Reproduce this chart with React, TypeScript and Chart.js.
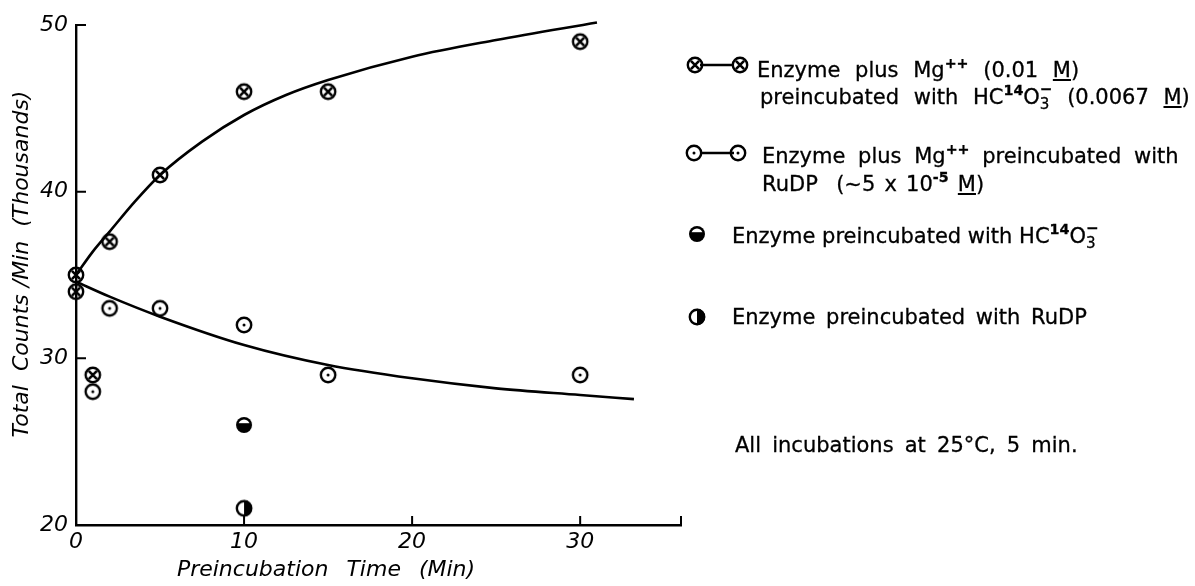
import React, { useEffect, useRef } from "react";
import { Chart, registerables } from "chart.js";
Chart.register(...registerables);

// ---- data ----
const X_TICKS = [0, 10, 20, 30];
const Y_TICKS = [20, 30, 40, 50];
const X_MIN = 0;
const X_MAX = 36;
const Y_MIN = 20;
const Y_MAX = 50;

const mgBicarbTime = [0, 0, 1, 2, 5, 10, 15, 30];
const mgBicarbCounts = [35, 34, 29, 37, 41, 46, 46, 49];

const mgRudpTime = [1, 2, 5, 10, 15, 30];
const mgRudpCounts = [28, 33, 33, 32, 29, 29];

const bicarbTime = [10];
const bicarbCounts = [26];

const rudpTime = [10];
const rudpCounts = [21];

const upperFitTime = [0, 1, 2, 3.5, 5, 7.5, 10, 12.5, 15, 20, 25, 31];
const upperFitCounts = [35, 36.4, 37.6, 39.4, 41.0, 43.0, 44.6, 45.8, 46.7, 48.1, 49.1, 50.15];

const lowerFitTime = [0, 2, 5, 10, 15, 20, 25, 30, 33.2];
const lowerFitCounts = [34.6, 33.7, 32.5, 30.8, 29.6, 28.8, 28.2, 27.8, 27.55];

const X_TITLE = "Preincubation  Time  (Min)";
const Y_TITLE = "Total  Counts /Min  (Thousands)";

const zip = (xs: number[], ys: number[]) => xs.map((x, i) => ({ x, y: ys[i] }));

type Kind = "cross" | "dot" | "halfBottom" | "halfRight";

function makeMarker(kind: Kind): HTMLCanvasElement {
  const s = 22;
  const c = document.createElement("canvas");
  c.width = s;
  c.height = s;
  const g = c.getContext("2d")!;
  const m = s / 2;
  g.strokeStyle = "#000";
  g.fillStyle = "#000";
  g.lineWidth = 2.4;
  if (kind === "cross") {
    g.beginPath();
    g.arc(m, m, 7.2, 0, Math.PI * 2);
    g.stroke();
    const d = 4.1;
    g.lineWidth = 2.6;
    g.beginPath();
    g.moveTo(m - d, m - d);
    g.lineTo(m + d, m + d);
    g.moveTo(m + d, m - d);
    g.lineTo(m - d, m + d);
    g.stroke();
  } else if (kind === "dot") {
    g.beginPath();
    g.arc(m, m, 7.2, 0, Math.PI * 2);
    g.stroke();
    g.beginPath();
    g.arc(m, m, 1.5, 0, Math.PI * 2);
    g.fill();
  } else if (kind === "halfBottom") {
    g.beginPath();
    g.arc(m, m, 8, 0, Math.PI * 2);
    g.fill();
    g.save();
    g.beginPath();
    g.arc(m, m, 5.6, 0, Math.PI * 2);
    g.clip();
    g.fillStyle = "#fff";
    g.fillRect(m - 7, m - 7, 14, 5.2);
    g.restore();
  } else {
    g.beginPath();
    g.arc(m, m, 7.2, 0, Math.PI * 2);
    g.stroke();
    g.beginPath();
    g.moveTo(m, m - 8.2);
    g.arc(m, m, 8.2, -Math.PI / 2, Math.PI / 2);
    g.closePath();
    g.fill();
  }
  return c;
}

const FONT = '"DejaVu Sans", "Liberation Sans", sans-serif';

export default function App() {
  const ref = useRef<HTMLCanvasElement | null>(null);

  useEffect(() => {
    if (!ref.current) return;
    const mk = {
      cross: makeMarker("cross"),
      dot: makeMarker("dot"),
      halfBottom: makeMarker("halfBottom"),
      halfRight: makeMarker("halfRight"),
    };

    const decor = {
      id: "decor",
      afterDraw(chart: any) {
        const { ctx } = chart;
        const xs = chart.scales.x;
        const ys = chart.scales.y;
        const x0 = xs.getPixelForValue(X_MIN);
        const y0 = ys.getPixelForValue(Y_MIN);
        ctx.save();
        ctx.strokeStyle = "#000";
        ctx.lineWidth = 2;
        ctx.beginPath();
        Y_TICKS.filter((v) => v > Y_MIN).forEach((v) => {
          const py = ys.getPixelForValue(v);
          ctx.moveTo(x0, py);
          ctx.lineTo(x0 + 10, py);
        });
        [...X_TICKS.filter((v) => v > X_MIN), X_MAX].forEach((v) => {
          const px = xs.getPixelForValue(v);
          ctx.moveTo(px, y0);
          ctx.lineTo(px, y0 - 9);
        });
        ctx.stroke();

        // axis titles
        ctx.fillStyle = "#000";
        ctx.font = `italic 22px ${FONT}`;
        ctx.textAlign = "center";
        ctx.textBaseline = "middle";
        try { (ctx as any).wordSpacing = "2px"; } catch (e) {}
        ctx.fillText(X_TITLE, 326, 570);
        try { (ctx as any).wordSpacing = "0px"; } catch (e) {}
        ctx.translate(22, 264);
        ctx.rotate(-Math.PI / 2);
        ctx.fillText(Y_TITLE, 0, 0);
        ctx.restore();

        // legend symbols
        ctx.save();
        ctx.strokeStyle = "#000";
        ctx.lineWidth = 2.4;
        ctx.beginPath();
        ctx.moveTo(700, 65);
        ctx.lineTo(734, 65);
        ctx.moveTo(700, 153);
        ctx.lineTo(734, 153);
        ctx.stroke();
        const put = (img: HTMLCanvasElement, cx: number, cy: number) =>
          ctx.drawImage(img, cx - img.width / 2, cy - img.height / 2);
        put(mk.cross, 695, 65);
        put(mk.cross, 740, 65);
        put(mk.dot, 694, 153);
        put(mk.dot, 738, 153);
        put(mk.halfBottom, 697, 234);
        put(mk.halfRight, 697, 317);
        ctx.restore();
      },
    };

    const chart = new Chart(ref.current, {
      type: "scatter",
      data: {
        datasets: [
          {
            label: "upper fit",
            data: zip(upperFitTime, upperFitCounts),
            showLine: true,
            borderColor: "#000",
            borderWidth: 2.6,
            pointRadius: 0,
            cubicInterpolationMode: "monotone",
            clip: false,
          } as any,
          {
            label: "lower fit",
            data: zip(lowerFitTime, lowerFitCounts),
            showLine: true,
            borderColor: "#000",
            borderWidth: 2.6,
            pointRadius: 0,
            cubicInterpolationMode: "monotone",
            clip: false,
          } as any,
          {
            label: "Enzyme plus Mg++ preincubated with HC14O3-",
            data: zip(mgBicarbTime, mgBicarbCounts),
            pointStyle: mk.cross,
            pointRadius: 8,
            clip: false,
          } as any,
          {
            label: "Enzyme plus Mg++ preincubated with RuDP",
            data: zip(mgRudpTime, mgRudpCounts),
            pointStyle: mk.dot,
            pointRadius: 8,
            clip: false,
          } as any,
          {
            label: "Enzyme preincubated with HC14O3-",
            data: zip(bicarbTime, bicarbCounts),
            pointStyle: mk.halfBottom,
            pointRadius: 8,
            clip: false,
          } as any,
          {
            label: "Enzyme preincubated with RuDP",
            data: zip(rudpTime, rudpCounts),
            pointStyle: mk.halfRight,
            pointRadius: 8,
            clip: false,
          } as any,
        ],
      },
      options: {
        responsive: false,
        animation: false,
        events: [],
        layout: { padding: { left: 0, top: 25, right: 1195 - 681, bottom: 0 } },
        plugins: { legend: { display: false }, tooltip: { enabled: false } },
        scales: {
          x: {
            type: "linear",
            min: X_MIN,
            max: X_MAX,
            grid: { display: false, drawTicks: false },
            border: { display: true, color: "#000", width: 2.4 },
            afterBuildTicks: (s: any) => {
              s.ticks = X_TICKS.map((v) => ({ value: v }));
            },
            afterFit: (s: any) => {
              s.height = 61;
            },
            ticks: {
              color: "#000",
              padding: 4,
              maxRotation: 0,
              font: { family: FONT, size: 22, style: "italic" },
            },
          },
          y: {
            type: "linear",
            min: Y_MIN,
            max: Y_MAX,
            grid: { display: false, drawTicks: false },
            border: { display: true, color: "#000", width: 2.4 },
            afterBuildTicks: (s: any) => {
              s.ticks = Y_TICKS.map((v) => ({ value: v }));
            },
            afterFit: (s: any) => {
              s.width = 76;
            },
            ticks: {
              color: "#000",
              padding: 8,
              font: { family: FONT, size: 22, style: "italic" },
            },
          },
        },
      } as any,
      plugins: [decor],
    });
    return () => chart.destroy();
  }, []);

  const row = (top: number, left: number, content: React.ReactNode, ws: number) => (
    <div
      style={{
        position: "absolute",
        top: top - 13,
        left,
        height: 26,
        lineHeight: "26px",
        whiteSpace: "pre",
        fontFamily: FONT,
        fontSize: 21,
        color: "#000",
        wordSpacing: ws,
        WebkitTextStroke: "0.3px #000",
      }}
    >
      {content}
    </div>
  );
  const sup = (t: string) => (
    <span style={{ fontSize: "0.68em", position: "relative", top: "-0.6em", fontWeight: "bold" }}>{t}</span>
  );
  const o3minus = (
    <span style={{ position: "relative", display: "inline-block", width: "0.6em" }}>
      <span style={{ fontSize: "0.72em", position: "relative", top: "0.35em" }}>3</span>
      <span style={{ fontSize: "0.72em", position: "absolute", left: 0, top: "-0.55em", fontWeight: "bold" }}>−</span>
    </span>
  );

  return (
    <div style={{ position: "absolute", left: 0, top: 0, width: 1195, height: 586, background: "#fff" }}>
      <canvas ref={ref} width={1195} height={586} style={{ position: "absolute", left: 0, top: 0 }} />
      {row(70, 757, <>Enzyme plus Mg{sup("++")} (0.01 <u>M</u>)</>, 8)}
      {row(97, 760, <>preincubated with HC{sup("14")}O{o3minus} (0.0067 <u>M</u>)</>, 8)}
      {row(156, 762, <>Enzyme plus Mg{sup("++")} preincubated with</>, 6)}
      {row(184, 762, <>RuDP  (~5 x 10{sup("-5")} <u>M</u>)</>, 2.5)}
      {row(236, 732, <>Enzyme preincubated with HC{sup("14")}O{o3minus}</>, 0)}
      {row(317, 732, <>Enzyme preincubated with RuDP</>, 4)}
      {row(445, 735, <>All incubations at 25°C, 5 min.</>, 4.5)}
    </div>
  );
}
